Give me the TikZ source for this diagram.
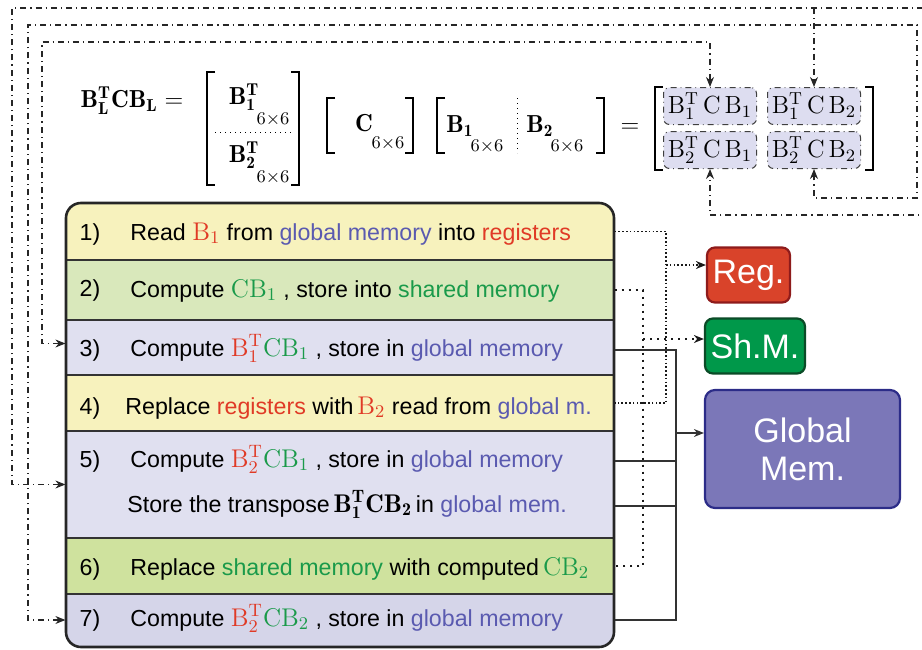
\RequirePackage{fix-cm}
\documentclass[tikz,border=0pt]{standalone}
\usepackage{amsmath}
\usepackage{xcolor}
\usepackage{fontspec}
\setsansfont{Liberation Sans}
\usepackage{tikz}
\usetikzlibrary{arrows.meta}

\definecolor{cred}{HTML}{E03A26}
\definecolor{cblue}{HTML}{5A5AB0}
\definecolor{cgreen}{HTML}{1A9A4A}
\definecolor{cyel}{HTML}{F7F2BD}
\definecolor{cgrA}{HTML}{D9E8BB}
\definecolor{cgrB}{HTML}{CFE29E}
\definecolor{clavA}{HTML}{E0E0F0}
\definecolor{clavB}{HTML}{D5D5E9}
\definecolor{cblk}{HTML}{DDDDF0}
\definecolor{regfill}{HTML}{D9432A}
\definecolor{regdraw}{HTML}{8E1B1B}
\definecolor{shmfill}{HTML}{00984A}
\definecolor{shmdraw}{HTML}{0B4B27}
\definecolor{glbfill}{HTML}{7B77B8}
\definecolor{glbdraw}{HTML}{2C2C88}

\newcommand{\mth}[1]{{\fontsize{12.8}{14}\selectfont$\mathrm{#1}$}}
\newcommand{\mthb}[1]{{\fontsize{12.8}{14}\selectfont$\mathbf{#1}$}}

\tikzset{
  stage/.style={rectangle, inner sep=0pt, minimum width=274pt, draw=black!80, line width=0.6pt},
  stagenum/.style={inner sep=0pt, font=\sffamily\fontsize{11.6}{14}\selectfont},
  txt/.style={anchor=west, inner sep=0pt, text height=8.5pt, text depth=2.5pt, font=\sffamily\fontsize{11.6}{14}\selectfont},
  eqn/.style={inner sep=0pt, font=\fontsize{12.3}{14}\selectfont},
  sz/.style={inner sep=0pt, font=\fontsize{9}{10}\selectfont},
  blk/.style={draw=black!75, dashdotted, line width=0.5pt, rounded corners=3pt, fill=cblk, minimum width=46.5pt, minimum height=18.5pt, inner sep=0pt, font=\fontsize{12.4}{14}\selectfont},
  mem/.style={rounded corners=4pt, line width=1.1pt, text=white, inner sep=0pt, align=center, font=\sffamily\fontsize{17}{19}\selectfont},
  brk/.style={line width=0.7pt},
  tip/.style={>={Stealth[length=5pt,width=4pt]}},
  link/.style={tip, line width=0.6pt, dashdotted, black!85},
  regline/.style={tip, line width=0.8pt, dash pattern=on 0.8pt off 1.1pt, black!90},
  shmline/.style={tip, line width=0.8pt, dash pattern=on 1.2pt off 2.3pt, black!90},
  gmline/.style={tip, line width=0.6pt, black!80}
}

\begin{document}
\begin{tikzpicture}[x=0.5pt,y=-0.5pt]
\useasboundingbox (0,0) rectangle (922,649);

% equation on top
\node[eqn] (lhs) at (132,101) {$\mathbf{B_L^TCB_L} =$};
\draw[brk] (215,72) -- (207,72) -- (207,185) -- (215,185);
\draw[brk] (291,72) -- (299,72) -- (299,185) -- (291,185);
\node[eqn] (m1a) at (244,97) {$\mathbf{B_1^T}$};
\node[sz] (m1as) at (273,120) {$6{\times}6$};
\draw[dotted, line width=0.5pt] (215,132) -- (291,132);
\node[eqn] (m1b) at (244,155) {$\mathbf{B_2^T}$};
\node[sz] (m1bs) at (273,178) {$6{\times}6$};

\draw[brk] (335,98) -- (327,98) -- (327,153) -- (335,153);
\draw[brk] (405,98) -- (413,98) -- (413,153) -- (405,153);
\node[eqn] (m2) at (364,123) {$\mathbf{C}$};
\node[sz] (m2s) at (388,144) {$6{\times}6$};

\draw[brk] (445,98) -- (437,98) -- (437,153) -- (445,153);
\draw[brk] (596,98) -- (604,98) -- (604,153) -- (596,153);
\node[eqn] (m3a) at (460,126) {$\mathbf{B_1}$};
\node[sz] (m3as) at (487,147) {$6{\times}6$};
\draw[dotted, line width=0.5pt] (517,98) -- (517,153);
\node[eqn] (m3b) at (540,126) {$\mathbf{B_2}$};
\node[sz] (m3bs) at (567,147) {$6{\times}6$};

\node[eqn] (eq) at (630,128) {$=$};
\draw[brk] (663,87) -- (655,87) -- (655,170) -- (663,170);
\draw[brk] (865,87) -- (873,87) -- (873,170) -- (865,170);
\node[blk] (b11) at (710,106) {$\mathrm{B}_1^{\mathrm{T}}\,\mathrm{C}\,\mathrm{B}_1$};
\node[blk] (b12) at (814,106) {$\mathrm{B}_1^{\mathrm{T}}\,\mathrm{C}\,\mathrm{B}_2$};
\node[blk] (b21) at (710,150) {$\mathrm{B}_2^{\mathrm{T}}\,\mathrm{C}\,\mathrm{B}_1$};
\node[blk] (b22) at (814,150) {$\mathrm{B}_2^{\mathrm{T}}\,\mathrm{C}\,\mathrm{B}_2$};

% the seven stages
\begin{scope}
\clip[rounded corners=7.5pt] (66,203) rectangle (614,647);
\node[stage, fill=cyel, minimum height=28.5pt] (s1) at (340,231.5) {};
\node[stage, fill=cgrA, minimum height=30pt] (s2) at (340,290) {};
\node[stage, fill=clavA, minimum height=27.5pt] (s3) at (340,347.5) {};
\node[stage, fill=cyel, minimum height=28pt] (s4) at (340,403) {};
\node[stage, fill=clavA, minimum height=53.5pt] (s5) at (340,484.5) {};
\node[stage, fill=cgrB, minimum height=28pt] (s6) at (340,566) {};
\node[stage, fill=clavB, minimum height=33pt] (s7) at (340,627) {};
\end{scope}
\draw[rounded corners=7.5pt, line width=1.3pt, draw=black!85] (66,203) rectangle (614,647);

\node[stagenum] (n1) at (90,234) {1)};
\node[stagenum] (n2) at (90,290) {2)};
\node[stagenum] (n3) at (90,350) {3)};
\node[stagenum] (n4) at (90,408) {4)};
\node[stagenum] (n5) at (90,461) {5)};
\node[stagenum] (n6) at (90,569) {6)};
\node[stagenum] (n7) at (90,620) {7)};

\node[txt] (t1) at (130,234) {Read \textcolor{cred}{\mth{B_1}} from \textcolor{cblue}{global memory} into \textcolor{cred}{registers}};
\node[txt] (t2) at (130,291) {Compute \textcolor{cgreen}{\mth{CB_1}} , store into \textcolor{cgreen}{shared memory}};
\node[txt] (t3) at (130,350) {Compute \textcolor{cred}{\mth{B_1^T}}\textcolor{cgreen}{\mth{CB_1}} , store in \textcolor{cblue}{global memory}};
\node[txt] (t4) at (125,408) {Replace \textcolor{cred}{registers} with\,\textcolor{cred}{\mth{B_2}} read from \textcolor{cblue}{global m.}};
\node[txt] (t5a) at (130,461) {Compute \textcolor{cred}{\mth{B_2^T}}\textcolor{cgreen}{\mth{CB_1}} , store in \textcolor{cblue}{global memory}};
\node[txt] (t5b) at (127,506) {Store the transpose\,\mthb{B_1^TCB_2}\,in \textcolor{cblue}{global mem.}};
\node[txt] (t6) at (130,569) {Replace \textcolor{cgreen}{shared memory} with computed\,\textcolor{cgreen}{\mth{CB_2}}};
\node[txt] (t7) at (130,620) {Compute \textcolor{cred}{\mth{B_2^T}}\textcolor{cgreen}{\mth{CB_2}} , store in \textcolor{cblue}{global memory}};

% memories
\node[mem, fill=regfill, draw=regdraw, minimum width=41.5pt, minimum height=27.5pt] (reg) at (748.5,275) {Reg.};
\node[mem, fill=shmfill, draw=shmdraw, minimum width=50pt, minimum height=27.5pt] (shm) at (755,346) {Sh.M.};
\node[mem, fill=glbfill, draw=glbdraw, minimum width=97.5pt, minimum height=59pt, rounded corners=5pt] (glb) at (802.5,449) {Global\\Mem.};

\coordinate (rx) at (666,0);
\coordinate (sx) at (643,0);
\coordinate (gx) at (676,0);
\coordinate (regin) at ([yshift=5pt]reg.west);
\coordinate (shmin) at ([yshift=3.5pt]shm.west);
\coordinate (glbin) at ([yshift=8pt]glb.west);

\draw[regline] (s1.east) -- (s1.east -| rx) -- (s4.east -| rx) -- (s4.east);
\draw[regline,->] (rx |- regin) -- (regin);
\draw[shmline] (s2.east) -- (s2.east -| sx) -- (s6.east -| sx) -- (s6.east);
\draw[shmline,->] (sx |- shmin) -- (shmin);
\draw[gmline] (t3 -| s3.east) -- (t3 -| gx) -- (t7 -| gx) -- (t7 -| s7.east);
\draw[gmline] (t5a -| s5.east) -- (t5a -| gx);
\draw[gmline] (t5b -| s5.east) -- (t5b -| gx);
\draw[gmline,->] (gx |- glbin) -- (glbin);

% results back to the blocks
\coordinate (la) at (42,42);
\coordinate (lb) at (12,8);
\coordinate (lc) at (28,25);
\coordinate (rb) at (926,215);
\coordinate (rc) at (917,198);
\draw[link,<->] ([yshift=2pt]s3.west) -| (la) -| (b11.north);
\draw[link,<->] (s5.west) -| (lb) -| (rb) -| (b21.south);
\draw[link,->] (b12.north |- lb) -- (b12.north);
\draw[link,<->] (t7 -| s7.west) -| (lc) -| (rc) -| (b22.south);
\end{tikzpicture}
\end{document}
